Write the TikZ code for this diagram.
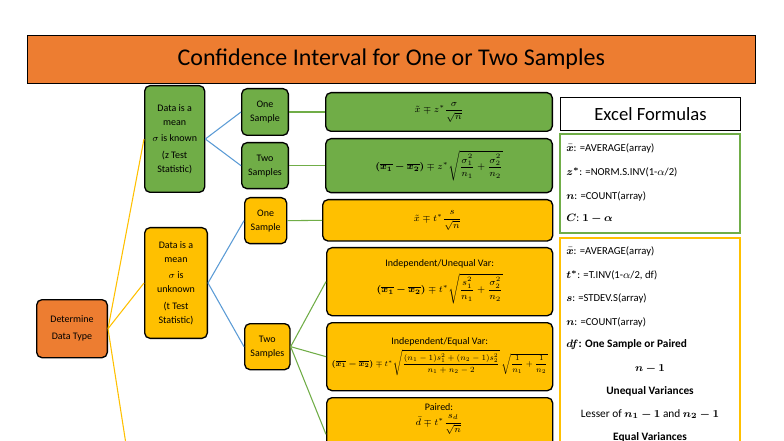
\documentclass[tikz,border=0pt]{standalone}
\usepackage{amsmath,bm}
\usepackage{fontspec}
\setmainfont{Carlito}
\usetikzlibrary{positioning}
\definecolor{orng}{HTML}{ED7D31}
\definecolor{grn}{HTML}{70AD47}
\definecolor{ylw}{HTML}{FFC000}
\definecolor{blu}{HTML}{5B9BD5}
\tikzset{box/.style={draw,rounded corners=4pt,line width=1pt,anchor=north west,align=center,inner sep=1pt,font=\fontsize{7.5}{10.5}\selectfont}}
\tikzset{xl/.style={anchor=west,inner sep=0pt,font=\fontsize{8}{9}\selectfont}}
\begin{document}
\begin{tikzpicture}[x=0.75pt,y=-0.75pt]
    \useasboundingbox (0,0) rectangle (784,441);
    % title
    \node[draw,fill=orng,anchor=north west,minimum width=546pt,minimum height=36pt,inner sep=0pt,font=\fontsize{18}{20}\selectfont] (title) at (27,35) {Confidence Interval for One or Two Samples};
    % left tree
    \node[box,fill=orng,minimum width=53pt,minimum height=43.5pt] (det) at (36,299) {Determine\\[2pt] Data Type};
    \node[box,fill=grn,minimum width=45pt,minimum height=80pt] (gmean) at (144,85) {Data is a\\ mean\\[2pt] $\sigma$ is known\\[2pt] (z Test\\ Statistic)};
    \node[box,fill=ylw,minimum width=47pt,minimum height=83pt] (ymean) at (144,227) {Data is a\\ mean\\[2pt] $\sigma$ is\\ unknown\\[2pt] (t Test\\ Statistic)};
    \coordinate (off) at (130,470);
    \node[box,fill=grn,minimum width=35pt,minimum height=35pt] (gone) at (241,88) {One\\ Sample};
    \node[box,fill=grn,minimum width=35pt,minimum height=34.5pt] (gtwo) at (241,142) {Two\\ Samples};
    \node[box,fill=ylw,minimum width=31.5pt,minimum height=34.5pt] (yone) at (244,197) {One\\ Sample};
    \node[box,fill=ylw,minimum width=34pt,minimum height=34.5pt] (ytwo) at (244,323) {Two\\ Samples};
    % formulas
    \node[box,fill=grn,minimum width=170pt,minimum height=29pt] (fz1) at (325,92) {$\tilde{x}\mp z^{*}\dfrac{\sigma}{\sqrt{n}}$};
    \node[box,fill=grn,minimum width=170pt,minimum height=40.5pt] (fz2) at (325,138) {$\bm{(\overline{x_1}-\overline{x_2})}\mp z^{*}\sqrt{\dfrac{\sigma_1^2}{n_1}+\dfrac{\sigma_2^2}{n_2}}$};
    \node[box,fill=ylw,minimum width=172.5pt,minimum height=31pt] (ft1) at (322,199) {$\tilde{x}\mp t^{*}\dfrac{s}{\sqrt{n}}$};
    \node[box,fill=ylw,minimum width=169.5pt,minimum height=51pt] (fun) at (326,247) {Independent/Unequal Var:\\[3pt] $\bm{(\overline{x_1}-\overline{x_2})}\mp t^{*}\sqrt{\dfrac{s_1^2}{n_1}+\dfrac{\sigma_2^2}{n_2}}$};
    \node[box,fill=ylw,minimum width=169.5pt,minimum height=51pt] (feq) at (326,322) {Independent/Equal Var:\\[2pt] \resizebox{162pt}{!}{$\bm{(\overline{x_1}-\overline{x_2})}\mp t^{*}\sqrt{\dfrac{(n_1-1)s_1^2+(n_2-1)s_2^2}{n_1+n_2-2}}\,\sqrt{\dfrac{1}{n_1}+\dfrac{1}{n_2}}$}};
    \node[box,fill=ylw,minimum width=169.5pt,minimum height=55pt] (fpd) at (326,397) {};
    \node[font=\fontsize{7.5}{10}\selectfont,align=center,anchor=north] (fpdt) at (439,399) {Paired:\\[1pt] $\bar{d}\mp t^{*}\dfrac{s_d}{\sqrt{n}}$};
    % connectors
    \draw[ylw,thick] (det.east) -- (gmean.west);
    \draw[ylw,thick] (det.east) -- (ymean.west);
    \draw[ylw,thick] (det.east) -- (off);
    \draw[blu,thick] (gmean.east) -- (gone.west);
    \draw[blu,thick] (gmean.east) -- (gtwo.west);
    \draw[blu,thick] (ymean.east) -- (yone.west);
    \draw[blu,thick] (ymean.east) -- (ytwo.west);
    \draw[grn,thick] (gone.east) -- (fz1.west);
    \draw[grn,thick] (gtwo.east) -- (fz2.west);
    \draw[grn,thick] (yone.east) -- (ft1.west);
    \draw[grn,thick] (ytwo.east) -- (fun.west);
    \draw[grn,thick] (ytwo.east) -- (feq.west);
    \draw[grn,thick] (ytwo.east) -- (fpd.west);
    % excel formulas
    \node[draw,thick,anchor=north west,minimum width=135pt,minimum height=24.75pt,inner sep=0pt,font=\fontsize{14}{16}\selectfont] (xtitle) at (560,97) {Excel Formulas};
    \draw[grn,thick] (560,134) rectangle (740,233);
    \draw[ylw,thick] (560,238) rectangle (740,460);
    \node[xl] (g1) at (566,148) {$\bm{\bar{x}}$: =AVERAGE(array)};
    \node[xl] (g2) at (566,172) {$\bm{z^{*}}$: =NORM.S.INV(1-$\alpha$/2)};
    \node[xl] (g3) at (566,196) {$\bm{n}$: =COUNT(array)};
    \node[xl] (g4) at (566,219) {$\bm{C}$: $\bm{1-\alpha}$};
    \node[xl] (y1) at (566,251) {$\bm{\bar{x}}$: =AVERAGE(array)};
    \node[xl] (y2) at (566,275) {$\bm{t^{*}}$: =T.INV(1-$\alpha$/2, df)};
    \node[xl] (y3) at (566,298) {$\bm{s}$: =STDEV.S(array)};
    \node[xl] (y4) at (566,322) {$\bm{n}$: =COUNT(array)};
    \node[xl,font=\fontsize{8.5}{9}\bfseries] (y5) at (566,345) {$\bm{df}$: One Sample or Paired};
    \node[inner sep=0pt,font=\fontsize{8.5}{9}\selectfont] (y6) at (650,369) {$\bm{n-1}$};
    \node[inner sep=0pt,font=\fontsize{8.5}{9}\bfseries] (y7) at (650,391) {Unequal Variances};
    \node[inner sep=0pt,font=\fontsize{8.5}{9}\selectfont] (y8) at (650,414) {Lesser of $\bm{n_1-1}$ and $\bm{n_2-1}$};
    \node[inner sep=0pt,font=\fontsize{8.5}{9}\bfseries] (y9) at (650,437) {Equal Variances};
\end{tikzpicture}
\end{document}
